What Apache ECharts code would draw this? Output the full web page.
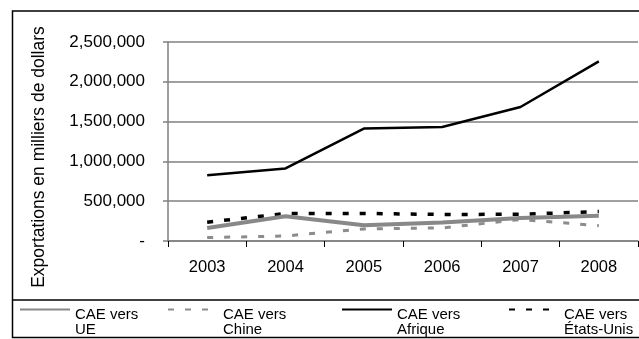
<!DOCTYPE html>
<html>
<head>
<meta charset="utf-8">
<script src="https://cdn.jsdelivr.net/npm/echarts@6/dist/echarts.min.js"></script>
<style>
  html, body { margin: 0; padding: 0; background: #fff; }
  #chart { width: 639px; height: 339px; }
</style>
</head>
<body>
<div id="chart"></div>
<script>
// Exportations de la CAE par destination (milliers de dollars)
const years = ['2003', '2004', '2005', '2006', '2007', '2008'];
const seriesNames = ['CAE vers UE', 'CAE vers Chine', 'CAE vers Afrique', 'CAE vers États-Unis'];
const exportsUE = [163000, 312000, 198000, 232000, 290000, 316000];
const exportsChine = [43000, 63000, 152000, 164000, 270000, 193000];
const exportsAfrique = [825000, 912000, 1412000, 1432000, 1683000, 2257000];
const exportsEtatsUnis = [236000, 345000, 347000, 333000, 336000, 370000];
const yTicks = { min: 0, max: 2500000, step: 500000 };
const axisTitle = 'Exportations en milliers de dollars';

const FONT = '"Liberation Sans", Arial, sans-serif';
const GRID_GREY = '#808080';
const DASH = [6, 11];

const seriesStyles = [
  { data: exportsUE, color: '#888888', width: 4, type: 'solid' },
  { data: exportsChine, color: '#8c8c8c', width: 3, type: DASH },
  { data: exportsAfrique, color: '#000000', width: 2.5, type: 'solid' },
  { data: exportsEtatsUnis, color: '#000000', width: 3.5, type: DASH }
];

const legendLefts = [19, 167, 341, 508];

const chart = echarts.init(document.getElementById('chart'), null, { renderer: 'canvas' });

chart.setOption({
  animation: false,
  backgroundColor: '#ffffff',
  grid: { left: 168, right: 1, top: 42, bottom: 98, containLabel: false },
  xAxis: {
    type: 'category',
    data: years,
    boundaryGap: true,
    axisLine: { show: true, lineStyle: { color: GRID_GREY, width: 1.5 } },
    axisTick: { show: true, alignWithLabel: false, length: 6, lineStyle: { color: '#000', width: 1 } },
    axisLabel: { fontFamily: FONT, fontSize: 16.5, color: '#000', margin: 18 },
    splitLine: { show: false }
  },
  yAxis: {
    type: 'value',
    min: yTicks.min,
    max: yTicks.max,
    interval: yTicks.step,
    axisLine: { show: true, lineStyle: { color: GRID_GREY, width: 1.5 } },
    axisTick: { show: true, length: 5, lineStyle: { color: GRID_GREY, width: 1.5 } },
    axisLabel: {
      fontFamily: FONT, fontSize: 17, color: '#000', margin: 23,
      formatter: v => v === 0 ? '-' : v.toLocaleString('en-US')
    },
    splitLine: { show: true, lineStyle: { color: GRID_GREY, width: 1.5 } }
  },
  legend: seriesNames.map((name, i) => ({
    data: [name],
    left: legendLefts[i],
    top: 287,
    padding: 0,
    itemWidth: 50,
    itemHeight: 0.5,
    itemGap: 0,
    itemStyle: { opacity: 0, borderWidth: 0 },
    formatter: n => '{pad| }\n{t|CAE vers}\n{t|' + n.replace('CAE vers ', '') + '}',
    textStyle: {
      fontFamily: FONT, fontSize: 15, color: '#000',
      rich: {
        pad: { lineHeight: 25, fontSize: 15, fontFamily: FONT },
        t: { lineHeight: 15, fontSize: 15, fontFamily: FONT, color: '#000' }
      }
    }
  })),
  series: seriesStyles.map((s, i) => ({
    name: seriesNames[i],
    type: 'line',
    data: s.data,
    symbol: 'none',
    showSymbol: false,
    smooth: false,
    lineStyle: { color: s.color, width: s.width, type: s.type, cap: 'butt' },
    itemStyle: { color: s.color },
    z: i === 0 ? 3 : 2
  })),
  graphic: [
    {
      type: 'rect',
      shape: { x: 12.5, y: 11, width: 640, height: 326.5 },
      style: { fill: 'none', stroke: '#000', lineWidth: 1.5 },
      silent: true
    },
    {
      type: 'line',
      shape: { x1: 12, y1: 300, x2: 639, y2: 300 },
      style: { stroke: '#000', lineWidth: 1.5 },
      silent: true
    },
    {
      type: 'text',
      x: 39,
      y: 157,
      rotation: Math.PI / 2,
      style: {
        text: axisTitle,
        fontFamily: FONT,
        fontSize: 17.5,
        fill: '#000',
        align: 'center',
        verticalAlign: 'middle'
      },
      silent: true
    }
  ]
});
</script>
</body>
</html>
